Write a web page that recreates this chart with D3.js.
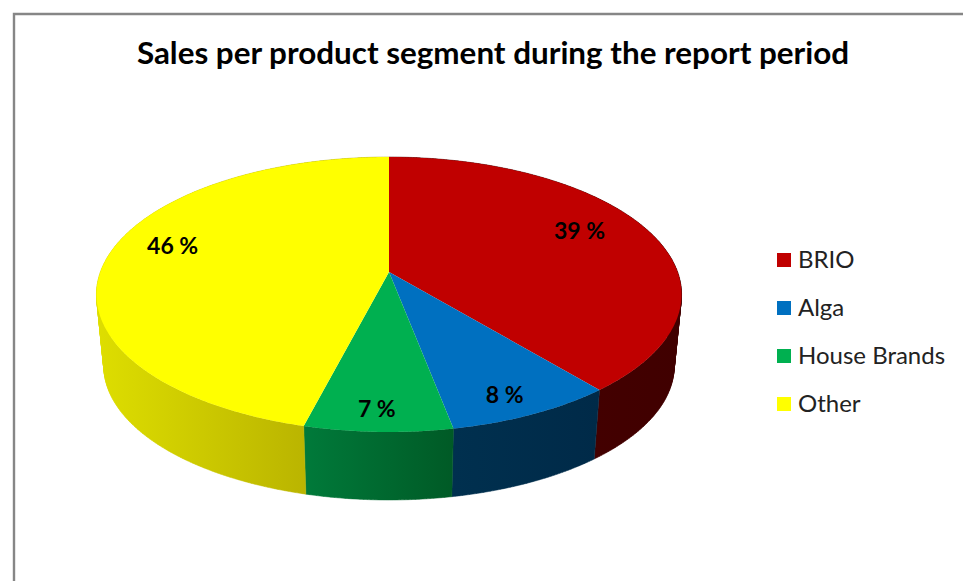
<!DOCTYPE html>
<html>
<head>
<meta charset="utf-8">
<script src="https://cdn.jsdelivr.net/npm/d3@7/dist/d3.min.js"></script>
<style>
  html, body { margin: 0; padding: 0; background: #fff; overflow: hidden; }
  text { font-family: Lato, "Noto Sans", sans-serif; fill: #000; }
</style>
</head>
<body>
<svg id="chart" width="963" height="581"></svg>
<script>
// Chart content
const chartTitle = "Sales per product segment during the report period";
const segments = ["BRIO", "Alga", "House Brands", "Other"];
const shares = [39, 8, 7, 46];
const topColors = ["#c00000", "#0070c0", "#00b050", "#ffff00"];
const wallDark = ["#400000", "#002a48", "#005a26", "#aca400"];
const wallLight = ["#4a0000", "#00304f", "#007a3a", "#dede00"];

// Label placement: fraction of the radius, and a nudge in pixels
const labelRadius = [0.75, 0.87, 0.87, 0.8];
const labelNudgeX = [-5, -7, -3, 9];
const labelNudgeY = [-9, 1, 0, -14];

const width = 963, height = 581;
const svg = d3.select("#chart");

// Tilted disc: perspective projection of a unit circle
const apex = { x: 389, y: 272 };
const disc = { rx: 288.6, ry: 133.8, persp: 0.1636 };
const wall = { drop: 72, shrink: 0.975 };

function project(angle, r = 1, lower = false) {
  const cx = r * Math.sin(angle), cy = -r * Math.cos(angle);
  const d = 1 - disc.persp * cy;
  const s = lower ? wall.shrink : 1;
  return [
    apex.x + s * disc.rx * cx / d,
    apex.y + (lower ? wall.drop : 0) + s * disc.ry * cy / d
  ];
}

const arcs = d3.pie().sort(null)(shares);
const outline = d3.line();

function rimAngles(a) {
  const n = Math.max(2, Math.ceil((a.endAngle - a.startAngle) * 90));
  return d3.range(n + 1).map(i => a.startAngle + (a.endAngle - a.startAngle) * i / n);
}

// Frame
svg.append("rect").attr("width", width).attr("height", height).attr("fill", "#fff");
svg.append("path")
  .attr("d", outline([[14, height], [14, 14], [width, 14]]))
  .attr("fill", "none").attr("stroke", "#868686").attr("stroke-width", 2.4);

// Title
svg.append("text")
  .attr("x", 493).attr("y", 64)
  .attr("text-anchor", "middle")
  .attr("font-size", 31.4).attr("font-weight", 700)
  .text(chartTitle);

// Horizontal shading on the side walls
const defs = svg.append("defs");
arcs.forEach((a, i) => {
  const pts = rimAngles(a).map(t => project(t));
  const [x0, x1] = d3.extent(pts, p => p[0]);
  const g = defs.append("linearGradient")
    .attr("id", "wall" + i)
    .attr("gradientUnits", "userSpaceOnUse")
    .attr("x1", x0).attr("x2", x1).attr("y1", 0).attr("y2", 0);
  g.append("stop").attr("offset", 0).attr("stop-color", wallLight[i]);
  g.append("stop").attr("offset", 1).attr("stop-color", wallDark[i]);
});

// Side walls: one path per slice, built from same-wound quads so that
// the silhouette between the two rims stays closed without seams
const walls = svg.append("g");
arcs.forEach((a, i) => {
  const ts = rimAngles(a);
  const d = ts.slice(1).map((t, k) => {
    const quad = [project(ts[k]), project(t), project(t, 1, true), project(ts[k], 1, true)];
    if (d3.polygonArea(quad) < 0) quad.reverse();
    return outline(quad) + "Z";
  }).join("");
  walls.append("path")
    .attr("d", d)
    .attr("fill", `url(#wall${i})`)
    .attr("stroke", `url(#wall${i})`)
    .attr("stroke-width", 0.5);
});

// Top face
svg.append("g").selectAll("path").data(arcs).join("path")
  .attr("d", a => outline([[apex.x, apex.y], ...rimAngles(a).map(t => project(t))]) + "Z")
  .attr("fill", (a, i) => topColors[i]);

// Percentage labels
svg.append("g").selectAll("text").data(arcs).join("text")
  .attr("x", (a, i) => project((a.startAngle + a.endAngle) / 2, labelRadius[i])[0] + labelNudgeX[i])
  .attr("y", (a, i) => project((a.startAngle + a.endAngle) / 2, labelRadius[i])[1] + labelNudgeY[i])
  .attr("text-anchor", "middle")
  .attr("dominant-baseline", "central")
  .attr("font-size", 23).attr("font-weight", 700)
  .text(a => a.value + " %");

// Legend
const legendY = d3.scalePoint().domain(segments).range([260, 404]);
const legend = svg.append("g").selectAll("g").data(segments).join("g")
  .attr("transform", d => `translate(777,${legendY(d)})`);
legend.append("rect")
  .attr("x", 0).attr("y", -7).attr("width", 14).attr("height", 14)
  .attr("fill", (d, i) => topColors[i]);
legend.append("text")
  .attr("x", 21).attr("y", 8)
  .attr("font-size", 24)
  .style("fill", "#222")
  .text(d => d);
</script>
</body>
</html>
